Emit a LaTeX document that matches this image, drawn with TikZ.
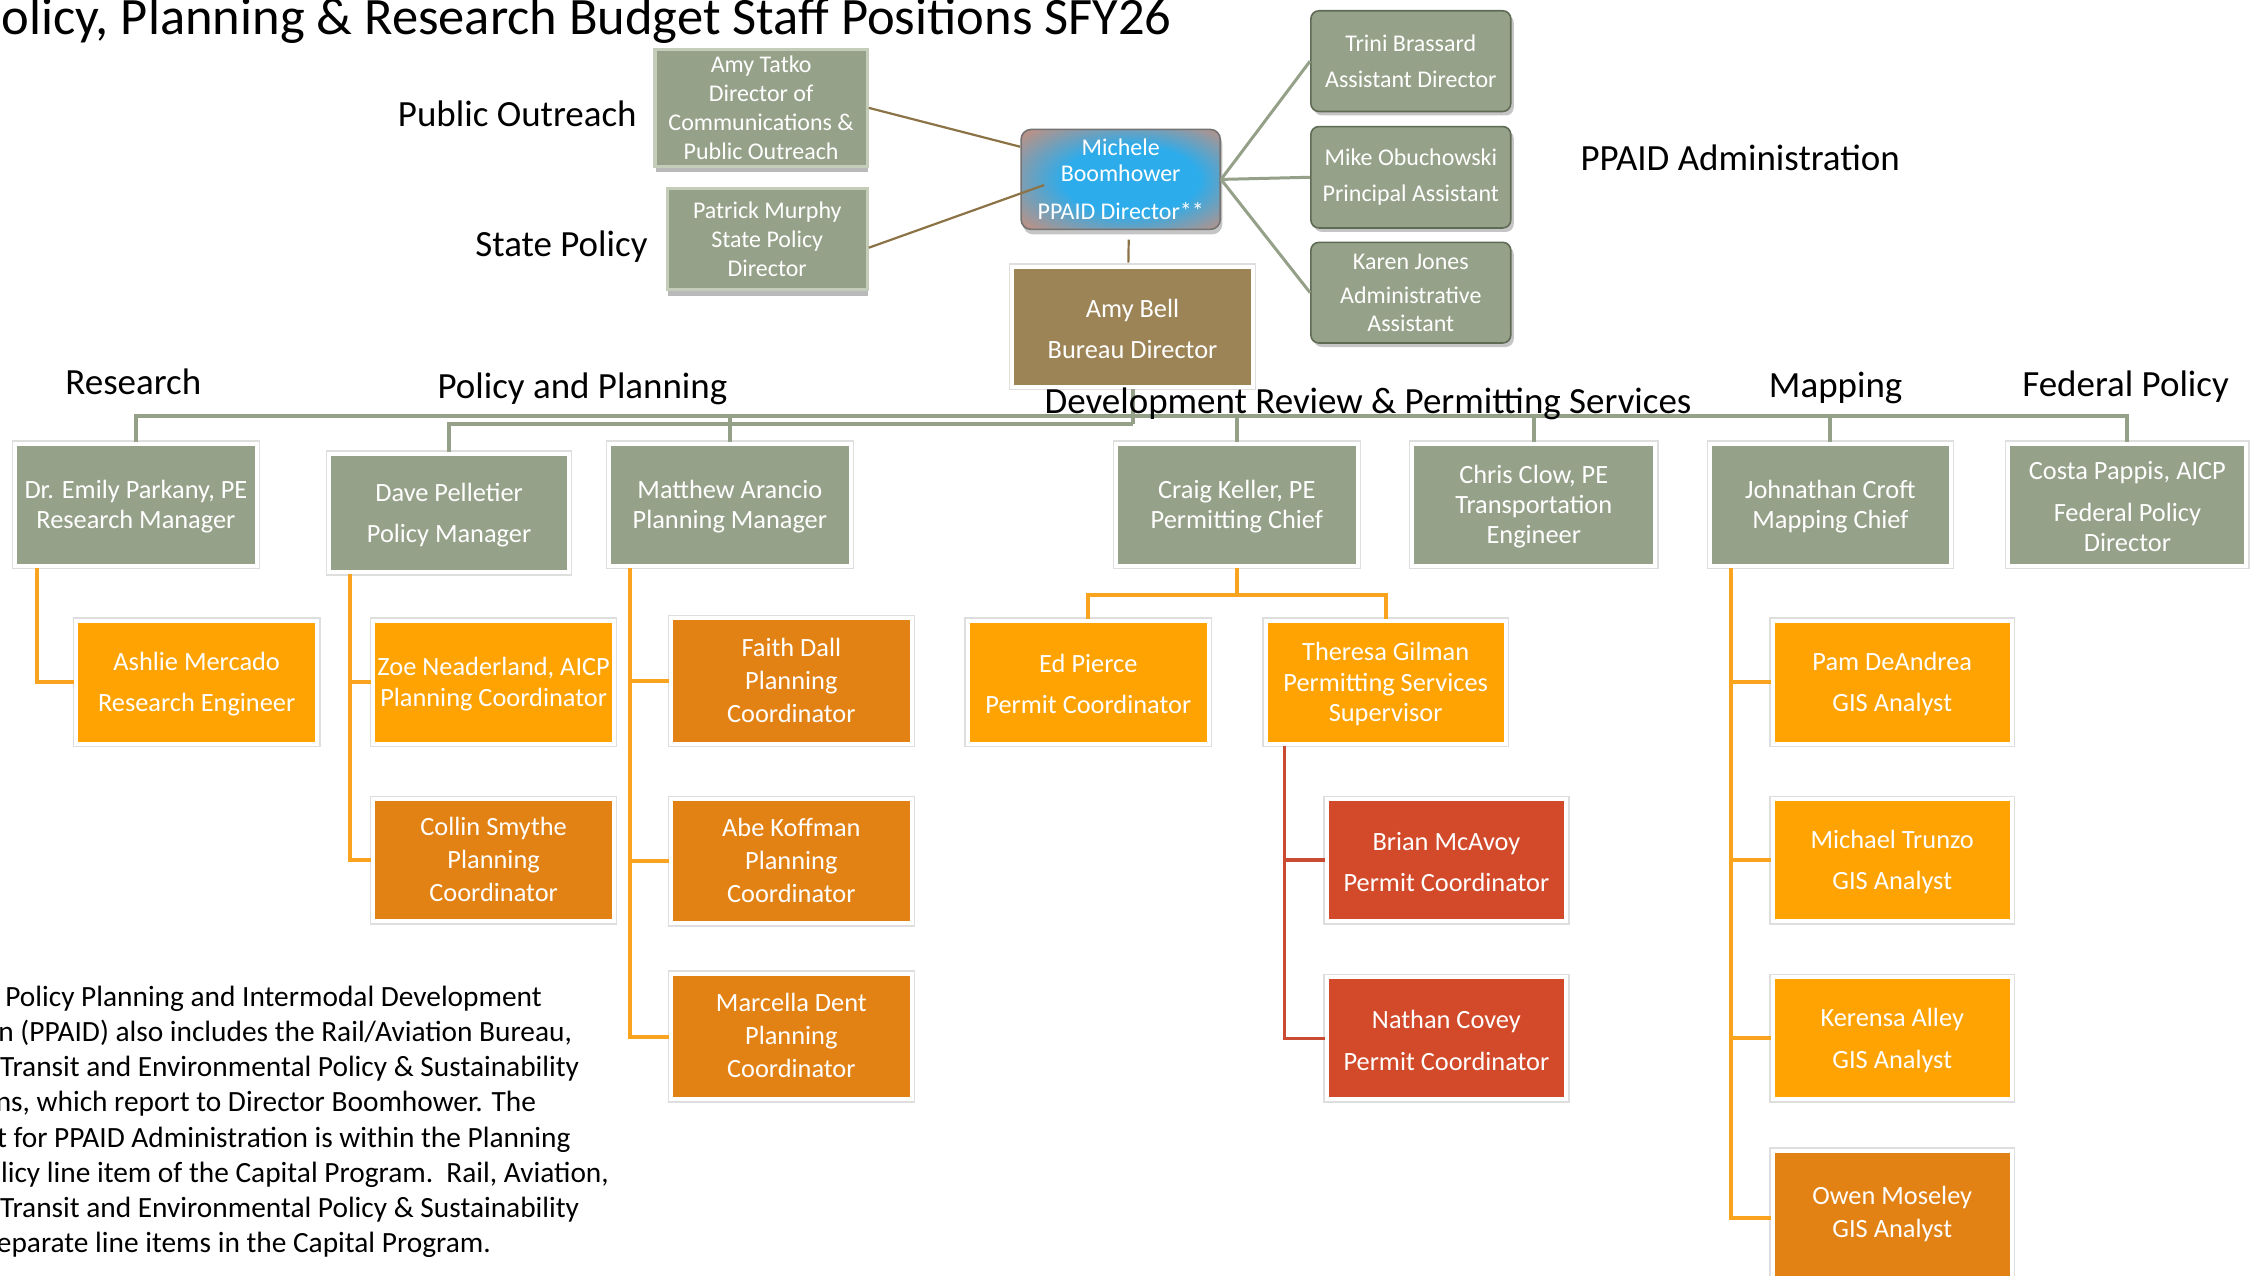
\documentclass[tikz,border=0pt]{standalone}
\usepackage{fontspec}
\setmainfont{Carlito}
\usetikzlibrary{fit,shadows}
\definecolor{pgreen}{RGB}{150,161,137}
\definecolor{pgreenlt}{RGB}{196,205,186}
\definecolor{pgreendk}{RGB}{95,107,85}
\definecolor{lorange}{RGB}{255,163,2}
\definecolor{dorange}{RGB}{227,130,20}
\definecolor{pred}{RGB}{210,74,42}
\definecolor{pbrown}{RGB}{156,132,86}
\definecolor{lgreen}{RGB}{148,160,136}
\definecolor{lorline}{RGB}{250,163,30}
\definecolor{lredline}{RGB}{200,75,50}
\definecolor{lbrown}{RGB}{140,115,70}
\definecolor{mblue}{RGB}{45,172,235}
\definecolor{mpink}{RGB}{184,146,136}
\pgfdeclareradialshading{mshade}{\pgfpoint{4bp}{0bp}}{color(0bp)=(mblue); color(17bp)=(mblue); color(34bp)=(mpink); color(50bp)=(mpink)}
\newcommand\bxf{\fontsize{13.2}{15.1}\selectfont}
\newcommand\smf{\fontsize{12}{14.4}\selectfont}
\newcommand\lbf{\fontsize{18.5}{22}\selectfont}
\newcommand\prf{\fontsize{14.7}{17.6}\selectfont}
\newcommand\mkbox[5]{%
  \node[#1, fit={#3}] (#2) {};
  \node[#4] (#2t) at (#2.center) {#5};}
\tikzset{
  frame/.style={preaction={draw=black!13, line width=3.4pt}, draw=white, line width=2pt},
  bshape/.style={inner sep=0pt},
  gbox/.style={bshape, frame, fill=pgreen},
  lobox/.style={bshape, frame, fill=lorange},
  dobox/.style={bshape, frame, fill=dorange},
  rbox/.style={bshape, frame, fill=pred},
  bbox/.style={bshape, frame, fill=pbrown},
  topbox/.style={bshape, fill=pgreen, draw=pgreenlt, line width=1.6pt,
     drop shadow={shadow xshift=0.5pt, shadow yshift=-3pt, opacity=0.55}},
  adbox/.style={bshape, fill=pgreen, draw=pgreendk, line width=0.8pt, rounded corners=4pt,
     drop shadow={shadow xshift=1.5pt, shadow yshift=-2pt, opacity=0.45}},
  mbox/.style={bshape, rounded corners=5pt, shading=mshade,
     draw=black!55, line width=0.8pt, drop shadow={shadow xshift=1pt, shadow yshift=-2.5pt, opacity=0.45}},
  txtbase/.style={inner sep=0pt, align=center, text=white},
  btxt/.style={txtbase, font=\bxf, yshift=-1pt},
  dtxt/.style={txtbase, font=\bxf, yshift=0.4pt},
  stxt/.style={txtbase, font=\smf},
  lbl/.style={font=\lbf, inner sep=0pt, anchor=base},
  para/.style={font=\prf, inner sep=0pt, anchor=base east},
  busline/.style={draw=lgreen, line width=2pt},
  oline/.style={draw=lorline, line width=2pt},
  rline/.style={draw=lredline, line width=1.6pt},
  brline/.style={draw=lbrown, line width=1.1pt},
  adline/.style={draw=lgreen, line width=1.5pt},
}
\begin{document}
\begin{tikzpicture}[x=0.72pt, y=-0.72pt]
\useasboundingbox[fill=white] (0,0) rectangle (1568,887);
\clip (0,0) rectangle (1568,887);

% ---------- top level ----------
\mkbox{topbox}{tatko}{(455.5,34.5) (603,115.5)}{stxt}{Amy Tatko\\Director of\\Communications \&\\Public Outreach}
\mkbox{topbox}{patrick}{(464,131) (603,201.5)}{stxt}{Patrick Murphy\\State Policy\\Director}
\mkbox{adbox}{trini}{(911.5,7.5) (1050.5,77.5)}{stxt}{Trini Brassard\\[3.6pt]Assistant Director}
\mkbox{adbox}{mike}{(911.5,88) (1050.5,158.5)}{stxt}{Mike Obuchowski\\[3.6pt]Principal Assistant}
\mkbox{adbox}{karen}{(911.5,168.5) (1050.5,238.5)}{stxt}{Karen Jones\\[2.9pt]Administrative\\[-0.7pt]Assistant}
\mkbox{mbox}{michele}{(710,90) (848.5,159.5)}{stxt}{Michele\\[-1.4pt]Boomhower\\[4.3pt]PPAID Director**}
\mkbox{bbox}{amybell}{(704,185.5) (871,269)}{btxt}{Amy Bell\\[5.8pt]Bureau Director}

\draw[brline] (tatko.east) -- ([shift={(0,-22.7)}]michele.west);
\draw[brline] ([shift={(0,6)}]patrick.east) -- ([shift={(16.6,3.9)}]michele.west) coordinate (mjoin);
\draw[brline] ([shift={(5.6,6.5)}]michele.south) -- ([shift={(-2.9,-1.5)}]amybell.north);
\draw[adline] (michele.east) -- (trini.west);
\draw[adline] (michele.east) -- (mike.west);
\draw[adline] (michele.east) -- (karen.west);

% ---------- level 2 ----------
\mkbox{gbox}{emily}{(10.5,308.5) (178.5,393.5)}{btxt}{Dr. Emily Parkany, PE\\Research Manager}
\mkbox{gbox}{dave}{(229,315.5) (395.5,398)}{btxt}{Dave Pelletier\\[5.8pt]Policy Manager}
\mkbox{gbox}{matthew}{(423.5,308.5) (591.5,393.5)}{btxt}{Matthew Arancio\\Planning Manager}
\mkbox{gbox}{craig}{(776,308.5) (944,393.5)}{btxt}{Craig Keller, PE\\Permitting Chief}
\mkbox{gbox}{chris}{(982,308.5) (1151,393.5)}{btxt}{Chris Clow, PE\\Transportation\\Engineer}
\mkbox{gbox}{john}{(1189,308.5) (1356.5,393.5)}{btxt}{Johnathan Croft\\Mapping Chief}
\mkbox{gbox}{costa}{(1396.5,308.5) (1562,393.5)}{btxt}{Costa Pappis, AICP\\[5.8pt]Federal Policy\\Director}

% ---------- level 3 ----------
\mkbox{lobox}{ashlie}{(53,431.5) (220.5,517)}{btxt}{Ashlie Mercado\\[5.8pt]Research Engineer}
\mkbox{lobox}{zoe}{(259.5,431.5) (427,517)}{btxt}{Zoe Neaderland, AICP\\Planning Coordinator}
\mkbox{dobox}{collin}{(259.5,555.5) (427,640.5)}{dtxt}{Collin Smythe\\[1.4pt]Planning\\[1.4pt]Coordinator}
\mkbox{dobox}{faith}{(466.5,430) (634,517)}{dtxt}{Faith Dall\\[1.4pt]Planning\\[1.4pt]Coordinator}
\mkbox{dobox}{abe}{(466.5,555.5) (634,642)}{dtxt}{Abe Koffman\\[1.4pt]Planning\\[1.4pt]Coordinator}
\mkbox{dobox}{marcella}{(466.5,677) (634,764.5)}{dtxt}{Marcella Dent\\[1.4pt]Planning\\[1.4pt]Coordinator}
\mkbox{lobox}{edp}{(673,431.5) (840.5,517)}{btxt}{Ed Pierce\\[5.8pt]Permit Coordinator}
\mkbox{lobox}{theresa}{(880,431.5) (1047,517)}{btxt}{Theresa Gilman\\Permitting Services\\Supervisor}
\mkbox{rbox}{brian}{(922.5,555.5) (1089,640.5)}{btxt}{Brian McAvoy\\[5.8pt]Permit Coordinator}
\mkbox{rbox}{nathan}{(922.5,679.5) (1089,764.5)}{btxt}{Nathan Covey\\[5.8pt]Permit Coordinator}
\mkbox{lobox}{pam}{(1232.5,431.5) (1399,517)}{btxt}{Pam DeAndrea\\[5.8pt]GIS Analyst}
\mkbox{lobox}{michael}{(1232.5,555.5) (1399,640.5)}{btxt}{Michael Trunzo\\[5.8pt]GIS Analyst}
\mkbox{lobox}{kerensa}{(1232.5,679.5) (1399,764.5)}{btxt}{Kerensa Alley\\[5.8pt]GIS Analyst}
\mkbox{dobox}{owen}{(1232.5,800) (1399,889.5)}{dtxt}{Owen Moseley\\[1.4pt]GIS Analyst}

% ---------- bus ----------
\coordinate (bus) at (787.5,289);
\coordinate (bustwo) at (787.5,294.5);
\draw[busline] (emily.north) |- (bus) -| (costa.north);
\draw[busline] (amybell.south) -- (bustwo);
\draw[busline] (dave.north) |- (bustwo);
\draw[busline] (bus -| matthew.north) -- (matthew.north);
\draw[busline] (bus -| craig.north) -- (craig.north);
\draw[busline] (bus -| chris.north) -- (chris.north);
\draw[busline] (bus -| john.north) -- (john.north);

% ---------- level 3 connectors ----------
\draw[oline] ([shift={(16.9,0)}]emily.south west) |- (ashlie.west);
\draw[oline] ([shift={(15.5,0)}]dave.south west) |- (zoe.west);
\draw[oline] ([shift={(15.5,0)}]dave.south west) |- (collin.west);
\draw[oline] ([shift={(16,0)}]matthew.south west) |- (faith.west);
\draw[oline] ([shift={(16,0)}]matthew.south west) |- (abe.west);
\draw[oline] ([shift={(16,0)}]matthew.south west) |- (marcella.west);
\draw[oline] (craig.south) -- ++(0,19) coordinate (cj) -| (edp.north);
\draw[oline] (cj) -| (theresa.north);
\draw[rline] ([shift={(14.6,0)}]theresa.south west) |- (brian.west);
\draw[rline] ([shift={(14.6,0)}]theresa.south west) |- (nathan.west);
\draw[oline] ([shift={(16,0)}]john.south west) |- (pam.west);
\draw[oline] ([shift={(16,0)}]john.south west) |- (michael.west);
\draw[oline] ([shift={(16,0)}]john.south west) |- (kerensa.west);
\draw[oline] ([shift={(16,0)}]john.south west) |- ([shift={(0,2)}]owen.west);

% ---------- labels ----------
\node[font=\fontsize{26.3}{30}\selectfont, inner sep=0pt, anchor=base east] (title) at (815,24.3) {olicy, Planning \& Research Budget Staff Positions SFY26};
\node[lbl] (lpo) at (359.7,88) {Public Outreach};
\node[lbl] (lsp) at (390.4,178.6) {State Policy};
\node[lbl] (lad) at (1210,118.7) {PPAID Administration};
\node[lbl] (lre) at (92.7,274.4) {Research};
\node[lbl] (lpp) at (405,276.8) {Policy and Planning};
\node[lbl] (ldr) at (951.2,287.6) {Development Review \& Permitting Services};
\node[lbl] (lma) at (1276.4,276.4) {Mapping};
\node[lbl] (lfp) at (1478,275.9) {Federal Policy};

% ---------- paragraph ----------
\node[para] (p1) at (377,700) {Policy Planning and Intermodal Development};
\node[para] (p2) at (398,724.4) {n (PPAID) also includes the Rail/Aviation Bureau,};
\node[para] (p3) at (403,748.8) {Transit and Environmental Policy \& Sustainability};
\node[para] (p4) at (373,773.2) {ns, which report to Director Boomhower. The};
\node[para] (p5) at (397,797.6) {t for PPAID Administration is within the Planning};
\node[para] (p6) at (423.6,822) {licy line item of the Capital Program.\ \ Rail, Aviation,};
\node[para] (p7) at (403,846.4) {Transit and Environmental Policy \& Sustainability};
\node[para] (p8) at (341.5,870.8) {eparate line items in the Capital Program.};
\end{tikzpicture}
\end{document}
